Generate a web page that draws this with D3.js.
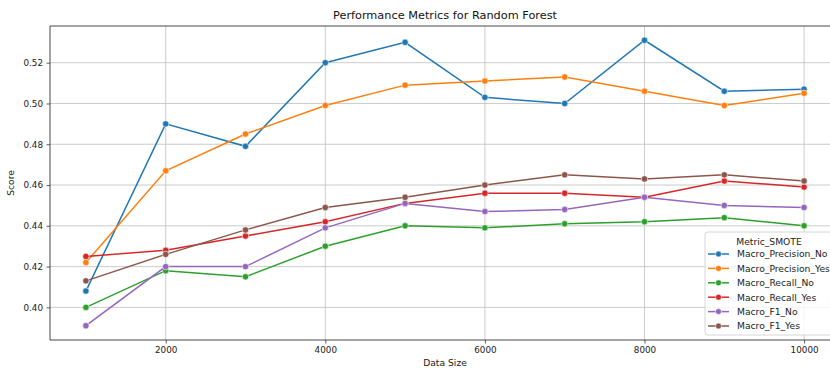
<!DOCTYPE html>
<html>
<head>
<meta charset="utf-8">
<script src="https://cdn.jsdelivr.net/npm/d3@7"></script>
<style>
  body { margin: 0; background: #fff; overflow: hidden; }
  svg { display: block; font-family: "DejaVu Sans", sans-serif; }
</style>
</head>
<body>
<div id="chart"></div>
<script>
// data
var sizes = [1000, 2000, 3000, 4000, 5000, 6000, 7000, 8000, 9000, 10000];
var seriesNames = ["Macro_Precision_No", "Macro_Precision_Yes", "Macro_Recall_No",
                   "Macro_Recall_Yes", "Macro_F1_No", "Macro_F1_Yes"];
var precisionNo  = [0.408, 0.490, 0.479, 0.520, 0.530, 0.503, 0.500, 0.531, 0.506, 0.507];
var precisionYes = [0.422, 0.467, 0.485, 0.499, 0.509, 0.511, 0.513, 0.506, 0.499, 0.505];
var recallNo     = [0.400, 0.418, 0.415, 0.430, 0.440, 0.439, 0.441, 0.442, 0.444, 0.440];
var recallYes    = [0.425, 0.428, 0.435, 0.442, 0.451, 0.456, 0.456, 0.454, 0.462, 0.459];
var f1No         = [0.391, 0.420, 0.420, 0.439, 0.451, 0.447, 0.448, 0.454, 0.450, 0.449];
var f1Yes        = [0.413, 0.426, 0.438, 0.449, 0.454, 0.460, 0.465, 0.463, 0.465, 0.462];
var xTicks = [2000, 4000, 6000, 8000, 10000];
var yTicks = [0.40, 0.42, 0.44, 0.46, 0.48, 0.50, 0.52];
var colors = ["#1f77b4", "#ff7f0e", "#2ca02c", "#d62728", "#9467bd", "#8c564b"];

var allValues = [precisionNo, precisionYes, recallNo, recallYes, f1No, f1Yes];
var series = seriesNames.map(function(n, i) {
  return {name: n, color: colors[i], values: sizes.map(function(s, j) { return {x: s, y: allValues[i][j]}; })};
});

var width = 830, height = 369;
var margin = {top: 26, left: 50, bottom: 29, right: -10};  // plot runs past the right edge

var svg = d3.select('#chart').append('svg')
            .attr('width', width)
            .attr('height', height);

// matplotlib-like 5% padding on the data range
var xExt = d3.extent(sizes), xPad = (xExt[1] - xExt[0]) * 0.05;
var yMin = d3.min(allValues, function(a) { return d3.min(a); });
var yMax = d3.max(allValues, function(a) { return d3.max(a); });
var yPad = (yMax - yMin) * 0.05;

var x = d3.scaleLinear()
          .domain([xExt[0] - xPad, xExt[1] + xPad])
          .range([margin.left, width - margin.right]);
var y = d3.scaleLinear()
          .domain([yMin - yPad, yMax + yPad])
          .range([height - margin.bottom, margin.top]);

var x0 = x.range()[0], x1 = x.range()[1], y0 = y.range()[0], y1 = y.range()[1];

// grid
var grid = svg.append('g').attr('stroke', '#b0b0b0').attr('stroke-width', 0.8).attr('opacity', 0.8);
grid.selectAll('.gx').data(xTicks).enter().append('line')
    .attr('x1', d => x(d)).attr('x2', d => x(d)).attr('y1', y0).attr('y2', y1);
grid.selectAll('.gy').data(yTicks).enter().append('line')
    .attr('y1', d => y(d)).attr('y2', d => y(d)).attr('x1', x0).attr('x2', x1);

// axes
var xAxis = svg.append('g')
   .attr('transform', 'translate(0,' + y0 + ')')
   .call(d3.axisBottom(x).tickValues(xTicks).tickFormat(d3.format('d')).tickSize(3.5).tickPadding(3.5));
var yAxis = svg.append('g')
   .attr('transform', 'translate(' + x0 + ',0)')
   .call(d3.axisLeft(y).tickValues(yTicks).tickFormat(d3.format('.2f')).tickSize(3.5).tickPadding(3.5));
[xAxis, yAxis].forEach(function(a) {
  a.select('.domain').remove();
  a.selectAll('line').attr('stroke', '#333').attr('stroke-width', 0.8);
  a.selectAll('text').attr('font-size', 8.8).attr('fill', '#222').attr('font-family', '"DejaVu Sans", sans-serif');
});

// spines
svg.append('path')
   .attr('d', 'M' + x1 + ',' + y1 + 'H' + x0 + 'V' + y0 + 'H' + x1)
   .attr('fill', 'none').attr('stroke', '#333').attr('stroke-width', 0.9);

// lines and markers
var line = d3.line().x(d => x(d.x)).y(d => y(d.y));
var g = svg.append('g');
series.forEach(function(s) {
  g.append('path').datum(s.values)
   .attr('d', line).attr('fill', 'none')
   .attr('stroke', s.color).attr('stroke-width', 1.5);
  g.selectAll(null).data(s.values).enter().append('circle')
   .attr('cx', d => x(d.x)).attr('cy', d => y(d.y)).attr('r', 3.2)
   .attr('fill', s.color).attr('stroke', '#fff').attr('stroke-width', 0.6);
});

// labels
svg.append('text').attr('x', (x0 + x1) / 2).attr('y', 19)
   .attr('text-anchor', 'middle').attr('font-size', 11.3).attr('fill', '#111')
   .text('Performance Metrics for Random Forest');
svg.append('text').attr('x', (x0 + x1) / 2).attr('y', 366)
   .attr('text-anchor', 'middle').attr('font-size', 9.2).attr('fill', '#222')
   .text('Data Size');
svg.append('text').attr('transform', 'translate(14,' + ((y0 + y1) / 2) + ') rotate(-90)')
   .attr('text-anchor', 'middle').attr('font-size', 9.2).attr('fill', '#222')
   .text('Score');

// legend
var lg = svg.append('g').attr('transform', 'translate(705,232)');
lg.append('rect').attr('x', 0).attr('y', 0).attr('width', 140).attr('height', 103)
  .attr('rx', 3).attr('fill', '#fff').attr('fill-opacity', 0.8)
  .attr('stroke', '#ccc').attr('stroke-width', 0.8);
lg.append('text').attr('x', 64).attr('y', 13).attr('text-anchor', 'middle')
  .attr('font-size', 9.2).attr('fill', '#222').text('Metric_SMOTE');
series.forEach(function(s, i) {
  var yy = 22 + i * 14.4;
  lg.append('line').attr('x1', 3).attr('x2', 24).attr('y1', yy).attr('y2', yy)
    .attr('stroke', s.color).attr('stroke-width', 1.5);
  lg.append('circle').attr('cx', 13.5).attr('cy', yy).attr('r', 3)
    .attr('fill', s.color).attr('stroke', '#fff').attr('stroke-width', 0.6);
  lg.append('text').attr('x', 32).attr('y', yy + 3.3)
    .attr('font-size', 9.2).attr('fill', '#222').text(s.name);
});
</script>
</body>
</html>
